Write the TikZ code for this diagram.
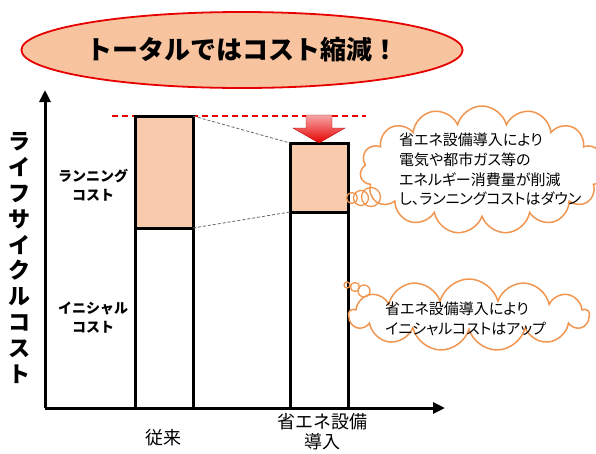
\documentclass[tikz,border=0pt]{standalone}
\usepackage{fontspec}
\newfontfamily\jp{Noto Sans CJK JP}
\newfontfamily\jpp[RawFeature={+palt}]{Noto Sans CJK JP}
\usetikzlibrary{shapes.geometric,shapes.symbols,arrows.meta}
\definecolor{peach}{RGB}{248,203,173}
\definecolor{titlefill}{RGB}{248,196,160}
\definecolor{myred}{RGB}{230,0,0}
\definecolor{cloudor}{RGB}{240,150,80}
\tikzset{
  axisline/.style={line width=3pt, -{Triangle[length=12pt,width=11pt]}},
  barline/.style={line width=3pt, draw=black},
  graydash/.style={dashed, draw=gray!80!black, line width=0.8pt, dash pattern=on 3pt off 2pt},
  reddash/.style={draw=myred, line width=1.2pt, dash pattern=on 6pt off 4pt},
  thought/.style={cloud, cloud ignores aspect, draw=cloudor, line width=1.5pt, fill=white},
  bubble/.style={circle, draw=cloudor, line width=1.3pt, inner sep=0pt},
  bubtext/.style={anchor=north west, align=left, inner sep=0pt, font=\jpp\fontsize{15}{19.6}\selectfont},
  axlabel/.style={align=center, inner sep=0pt, font=\jp\bfseries\fontsize{14}{19}\selectfont},
  catlabel/.style={align=center, inner sep=0pt, font=\jp\fontsize{18}{20}\selectfont},
}
\begin{document}
\begin{tikzpicture}[x=1pt,y=-1pt]
\useasboundingbox (0,0) rectangle (596,453);
% title
\node[ellipse, draw=myred, line width=1.8pt, fill=titlefill, minimum width=350pt, minimum height=76pt, inner sep=0pt,
  font=\jp\bfseries\fontsize{26}{28}\selectfont] (title) at (242,50) {トータルではコスト縮減！};
% axes
\coordinate (O) at (45,408);
\coordinate (Ytip) at (45,90);
\coordinate (Xtip) at (445,408);
\draw[axisline] (O) -- (Ytip);
\draw[axisline] (O) -- (Xtip);
% red dashed level line
\coordinate (D1) at (112,116);
\coordinate (D2) at (366,116);
\draw[reddash] (D1) -- (D2);
% bars
\coordinate (L1) at (193,116);
\coordinate (L2) at (193,228);
\coordinate (R1) at (290,143);
\coordinate (R2) at (290,212);
\draw[barline, fill=peach] (135,116) rectangle (L2);
\draw[barline, fill=white] (135,228) rectangle (193,408);
\draw[barline, fill=peach] (R1) rectangle (348,212);
\draw[barline, fill=white] (R2) rectangle (348,408);
\draw[graydash] (L1) -- (R1);
\draw[graydash] (L2) -- (R2);
% red arrow
\shade[top color=myred!35, bottom color=myred, draw=myred!80!black, line width=0.4pt]
  (306,115) -- (332,115) -- (332,128) -- (345,128) -- (319,143) -- (293,128) -- (306,128) -- cycle;
% y-axis label
\node[align=center, inner sep=0pt, font=\jp\bfseries\fontsize{22}{25.9}\selectfont] (ylab) at (20,258)
  {ラ\\イ\\フ\\サ\\イ\\ク\\ル\\コ\\ス\\ト};
% cost labels
\node[axlabel] (rc) at (93,185) {ランニング\\コスト};
\node[axlabel] (ic) at (93,318) {イニシャル\\コスト};
% category labels
\node[catlabel] (c1) at (163,438) {従来};
\node[catlabel] (c2) at (322,432) {省エネ設備\\導入};
% cloud 1
\node[thought, cloud puffs=15, minimum width=244pt, minimum height=128pt] (cl1) at (482,170) {};
\node[bubtext] (t1) at (399,133) {省エネ設備導入により\\電気や都市ガス等の\\エネルギー消費量が削減\\し、ランニングコストはダウン};
\node[bubble, minimum size=11pt] (b1) at (352,198) {};
\node[bubble, minimum size=15pt] (b2) at (361,198) {};
\node[bubble, minimum size=19pt] (b3) at (371,197) {};
% cloud 2
\node[thought, cloud puffs=13, minimum width=240pt, minimum height=72pt] (cl2) at (469,315) {};
\node[bubtext] (t2) at (385,302) {省エネ設備導入により\\イニシャルコストはアップ};
\node[bubble, minimum size=6pt] (b4) at (347,285) {};
\node[bubble, minimum size=9pt] (b5) at (355,287) {};
\node[bubble, minimum size=12pt] (b6) at (364,291) {};
\end{tikzpicture}
\end{document}
